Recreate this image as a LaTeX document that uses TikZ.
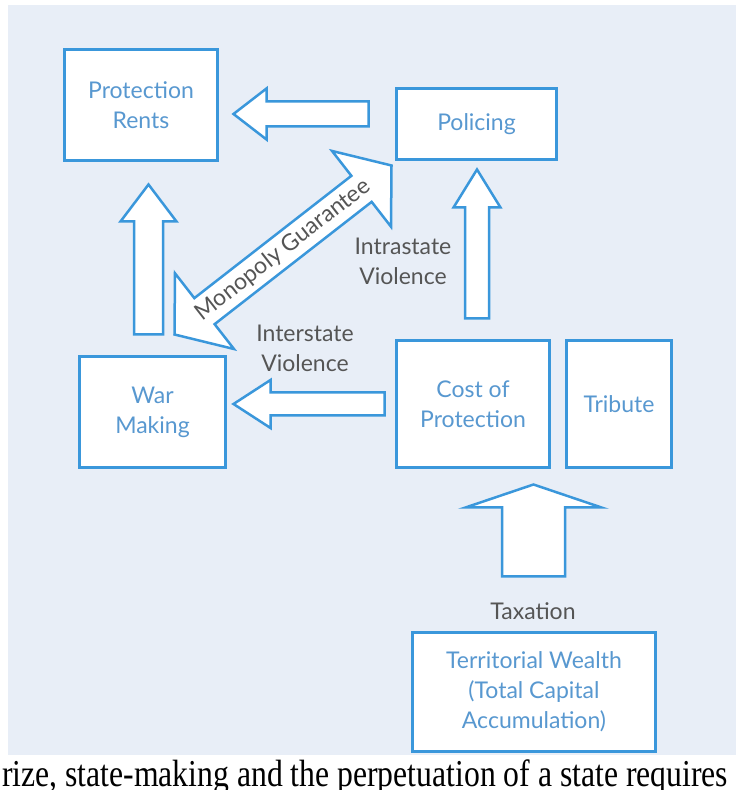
\documentclass[tikz,border=0pt]{standalone}
\usepackage{fontspec}
\setmainfont{Lato}
\newfontfamily\captionfont{Liberation Serif}
\usetikzlibrary{calc}

\definecolor{bgblue}{RGB}{232,238,247}
\definecolor{lineblue}{RGB}{58,151,219}
\definecolor{textblue}{RGB}{88,152,208}
\definecolor{labelgray}{RGB}{85,85,85}

\tikzset{
  stagebox/.style={draw=lineblue,line width=3pt,fill=white,text=textblue,align=center,
    inner sep=0pt,outer sep=0pt,font=\fontsize{23}{30}\selectfont},
  lbl/.style={text=labelgray,align=center,inner sep=0pt,font=\fontsize{23}{30}\selectfont},
  blockline/.style={draw=lineblue,line width=2.5pt,fill=white,line join=miter},
  % single block arrow: shaft half / head half / head length
  fatarrow/.style args={#1/#2/#3}{blockline,to path={
    let \p1=(\tikztostart),\p2=(\tikztotarget),
        \n1={atan2(\y2-\y1,\x2-\x1)},\n2={veclen(\x2-\x1,\y2-\y1)}
    in [shift={(\p1)},rotate=\n1]
    (0pt,-#1pt) -- (\n2-#3pt,-#1pt) -- (\n2-#3pt,-#2pt) -- (\n2,0pt)
    -- (\n2-#3pt,#2pt) -- (\n2-#3pt,#1pt) -- (0pt,#1pt) -- cycle}},
  % double block arrow
  fatdouble/.style args={#1/#2/#3}{blockline,to path={
    let \p1=(\tikztostart),\p2=(\tikztotarget),
        \n1={atan2(\y2-\y1,\x2-\x1)},\n2={veclen(\x2-\x1,\y2-\y1)}
    in [shift={(\p1)},rotate=\n1]
    (#3pt,-#1pt) -- (\n2-#3pt,-#1pt) -- (\n2-#3pt,-#2pt) -- (\n2,0pt)
    -- (\n2-#3pt,#2pt) -- (\n2-#3pt,#1pt) -- (#3pt,#1pt) -- (#3pt,#2pt)
    -- (0pt,0pt) -- (#3pt,-#2pt) -- cycle}}
}

\begin{document}
\begin{tikzpicture}[x=1pt,y=1pt]
\useasboundingbox (0,0) rectangle (736,790);
\fill[bgblue] (8,35) rectangle (736,785);

% boxes
\node[stagebox,minimum width=153pt,minimum height=111pt] (rents) at (141,685) {Protection\\Rents};
\node[stagebox,minimum width=160pt,minimum height=71pt] (policing) at (476.5,666) {Policing};
\node[stagebox,minimum width=146pt,minimum height=111pt] (war) at (152.5,378) {War\\Making};
\node[stagebox,minimum width=153pt,minimum height=127pt] (cost) at (473,386) {Cost of\\Protection};
\node[stagebox,minimum width=105pt,minimum height=127pt] (tribute) at (619,386) {Tribute};
\node[stagebox,minimum width=243pt,minimum height=119pt] (wealth) at (534,98) {Territorial Wealth\\(Total Capital\\Accumulation)};

% block arrows
\draw[fatarrow=12.5/25.5/33] ([shift={(-28,10)}]policing.west) to ([shift={(16,-9)}]rents.east);
\draw[fatarrow=14.5/28/37] ([shift={(-4,22)}]war.north) to ([shift={(7.5,-24)}]rents.south);
\draw[fatarrow=12/23.5/38] ([shift={(4,22)}]cost.north) to ([shift={(0.5,-10)}]policing.south);
\draw[fatarrow=11.5/24/37] ([shift={(-12,0)}]cost.west) to ([shift={(8,8)}]war.east);
\draw[fatarrow=31.5/68/23] ([shift={(-0.5,56)}]wealth.north) to ([shift={(60.5,-17)}]cost.south);

\coordinate (mg1) at ([shift={(-51,22)}]war.north east);
\coordinate (mg2) at ([shift={(-5,-6)}]policing.south west);
\draw[fatdouble=16.5/48/38] (mg1) to (mg2);
\path (mg1) -- (mg2) node[midway,sloped,lbl] (monopoly) {Monopoly Guarantee};

% labels
\node[lbl] (intra) at (403,529) {Intrastate\\Violence};
\node[lbl] (inter) at (305,442) {Interstate\\Violence};
\node[lbl] (tax) at (533,179) {Taxation};

\node[anchor=base west,inner sep=0pt,xscale=0.834,font=\captionfont\fontsize{38}{40}\selectfont] (caption) at (2,3)
  {rize, state-making and the perpetuation of a state requires};
\end{tikzpicture}
\end{document}
